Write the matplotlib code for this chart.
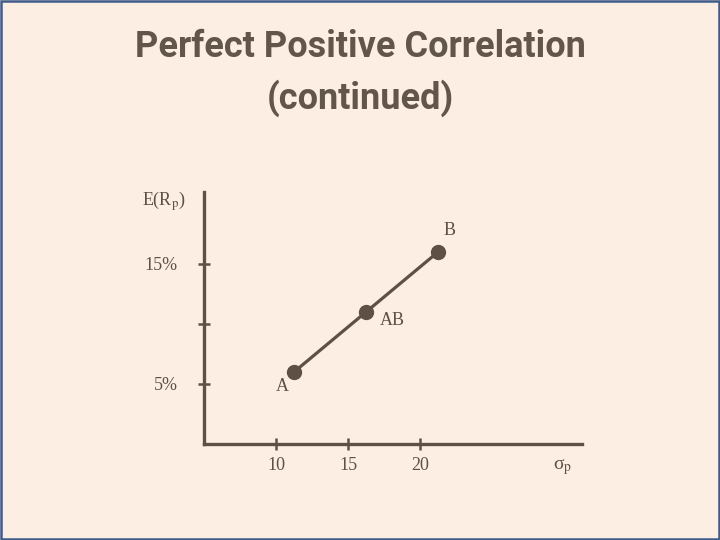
import matplotlib
matplotlib.use("Agg")
import matplotlib.pyplot as plt
from matplotlib.patches import Rectangle

# portfolio points (sigma_p, E(Rp) in %)
names = ["A", "AB", "B"]
sigma = [11.25, 16.25, 21.25]
ret = [6, 11, 16]

xticks = [10, 15, 20]
yticks = [5, 10, 15]
ylabels = ["5%", "", "15%"]

ink = "#5f5045"
bg = "#fdeee3"

plt.rcParams["font.family"] = ["Liberation Serif", "DejaVu Serif"]
plt.rcParams["mathtext.fontset"] = "stix"

fig = plt.figure(figsize=(7.2, 5.4), dpi=100)
fig.patch.set_facecolor(bg)
fig.patches.append(Rectangle((0.0015, 0.002), 0.997, 0.996, transform=fig.transFigure,
                             fill=False, edgecolor="#3f5b8a", linewidth=1.8))

fig.text(0.5, 0.913, "Perfect Positive Correlation", ha="center", va="center",
         fontsize=26, fontweight="bold", family="Roboto", color="#62554a")
fig.text(0.5, 0.818, "(continued)", ha="center", va="center",
         fontsize=26, fontweight="bold", family="Roboto", color="#62554a")

ax = fig.add_axes([204 / 720, 96 / 540, 378 / 720, 252 / 540])
ax.set_facecolor("none")
ax.set_xlim(5, 31.25)
ax.set_ylim(0, 21)
for s in ["top", "right"]:
    ax.spines[s].set_visible(False)
for s in ["left", "bottom"]:
    ax.spines[s].set_color(ink)
    ax.spines[s].set_linewidth(2.4)

ax.set_xticks(xticks)
ax.set_yticks(yticks)
ax.set_yticklabels(ylabels)
ax.tick_params(axis="both", direction="inout", length=8, width=1.8, color=ink,
               labelcolor=ink, labelsize=13)
ax.tick_params(axis="x", pad=5)
ax.tick_params(axis="y", pad=15)

ax.plot(sigma, ret, color=ink, linewidth=2.3, marker="o", markersize=10,
        clip_on=False)

offsets = {"A": (-0.8, -1.2), "AB": (1.8, -0.7), "B": (0.8, 1.8)}
for n, x, y in zip(names, sigma, ret):
    dx, dy = offsets[n]
    ax.text(x + dx, y + dy, n, ha="center", va="center", fontsize=13, color=ink)

ax.text(2.2, 20.2, "E(R$_\\mathrm{p}$)", ha="center", va="center", fontsize=13,
        color=ink, clip_on=False)
ax.text(29.9, -1.9, "σ$_\\mathrm{p}$", ha="center", va="center", fontsize=14,
        color=ink, clip_on=False)

fig.savefig("out.png", dpi=100, facecolor=bg)
